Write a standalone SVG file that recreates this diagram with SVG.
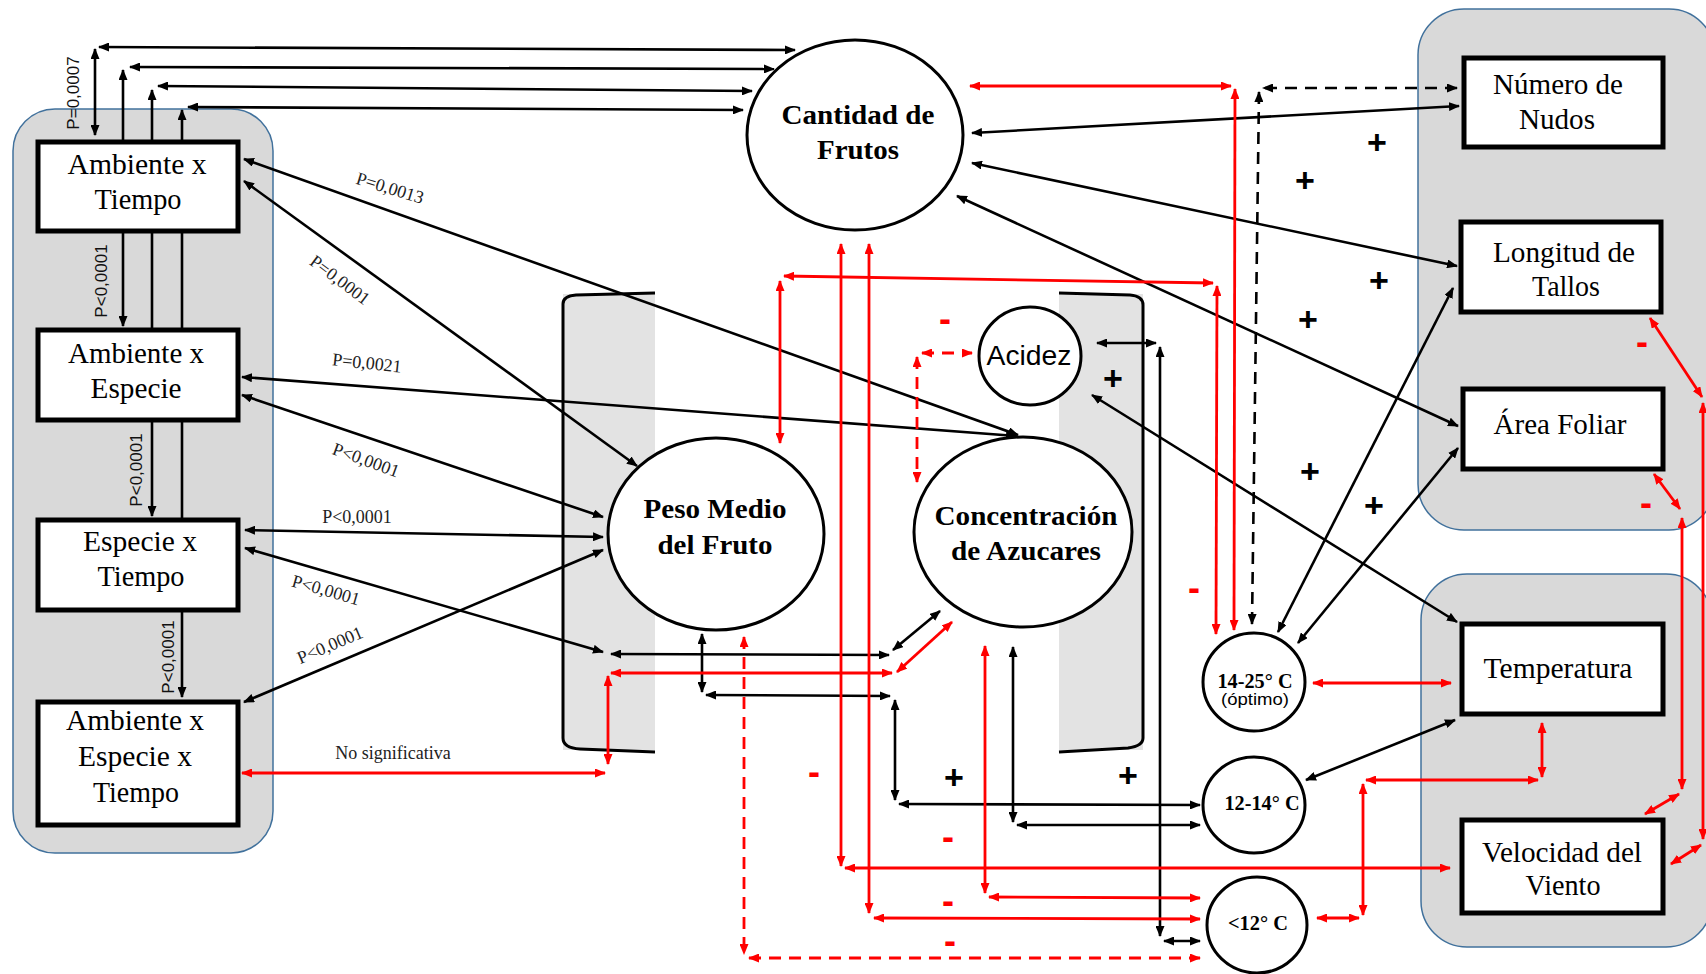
<svg xmlns="http://www.w3.org/2000/svg" width="1706" height="974" viewBox="0 0 1706 974">
<style>
.grp{fill:#d9d9d9;stroke:#41719c;stroke-width:1.5}
.box{fill:#fff;stroke:#000;stroke-width:5}
.ell{fill:#fff;stroke:#000;stroke-width:3}
.cyl{fill:#e3e3e3}
.cyll{fill:none;stroke:#000;stroke-width:3}
.bl{stroke:#000;stroke-width:2.6;fill:none;marker-start:url(#ab);marker-end:url(#ab)}
.rd{stroke:#f00;stroke-width:2.8;fill:none;marker-start:url(#ar);marker-end:url(#ar)}
.dash{stroke-dasharray:12 8}
.t{font-family:"Liberation Serif","Times New Roman",serif;font-size:29px;fill:#000;text-anchor:middle}
.tb{font-family:"Liberation Serif","Times New Roman",serif;font-size:28px;font-weight:bold;fill:#000;text-anchor:middle}
.ts{font-family:"Liberation Serif","Times New Roman",serif;font-size:20px;font-weight:bold;fill:#000;text-anchor:middle}
.p{font-family:"Liberation Serif","Times New Roman",serif;font-size:18px;fill:#222;text-anchor:middle}
.pv{font-family:"Liberation Sans",Arial,sans-serif;font-size:17px;fill:#111;text-anchor:middle}
.plus{font-family:"Liberation Sans",Arial,sans-serif;font-size:34px;font-weight:bold;fill:#000;text-anchor:middle}
.minus{font-family:"Liberation Sans",Arial,sans-serif;font-size:36px;font-weight:bold;fill:#f00;text-anchor:middle}
.sans{font-family:"Liberation Sans",Arial,sans-serif;fill:#000;text-anchor:middle}
</style>
<defs>
<marker id="ab" viewBox="0 0 11 9" refX="10" refY="4.5" markerWidth="11" markerHeight="9" markerUnits="userSpaceOnUse" orient="auto-start-reverse"><path d="M0,0 L11,4.5 L0,9 z" fill="#000"/></marker>
<marker id="ar" viewBox="0 0 11 9" refX="10" refY="4.5" markerWidth="11" markerHeight="9" markerUnits="userSpaceOnUse" orient="auto-start-reverse"><path d="M0,0 L11,4.5 L0,9 z" fill="#f00"/></marker>
</defs>
<rect width="1706" height="974" fill="#fff"/>

<g id="panels">
<rect class="grp" x="13" y="109" width="260" height="744" rx="42"/>
<rect class="grp" x="1418" y="9" width="297" height="521" rx="46"/>
<rect class="grp" x="1421" y="574" width="291" height="373" rx="46"/>
<rect class="cyl" x="563" y="294" width="92" height="456"/>
<path class="cyll" d="M655,293 L576,295 Q563,296 563,304 L563,738 Q563,748 580,749 L655,752"/>
<rect class="cyl" x="1059" y="294" width="84" height="456"/>
<path class="cyll" d="M1059,293 L1130,295 Q1143,296 1143,305 L1143,738 Q1143,746 1128,748 L1059,752"/>
</g>

<g id="connectors">
<path class="bl" d="M95,135 L95,49"/>
<path class="bl" d="M99,47 L795,50"/>
<path class="bl" d="M123,326 L123,70"/>
<path class="bl" d="M130,67 L774,69"/>
<path class="bl" d="M152,516 L152,90"/>
<path class="bl" d="M158,86 L752,91"/>
<path class="bl" d="M182,697 L182,110"/>
<path class="bl" d="M188,107 L743,110"/>
<path class="bl" d="M244,159 L1018,435"/>
<path class="bl" d="M244,181 L637,466"/>
<path class="bl" d="M242,377 L1016,436"/>
<path class="bl" d="M242,395 L603,517"/>
<path class="bl" d="M245,530 L603,537"/>
<path class="bl" d="M245,548 L603,652"/>
<path class="bl" d="M244,702 L603,550"/>
<path class="bl" d="M611,654 L889,655"/>
<path class="bl" d="M893,650 L940,611"/>
<path class="bl" d="M702,634 L702,692"/>
<path class="bl" d="M706,695 L890,696"/>
<path class="bl" d="M895,700 L895,800"/>
<path class="bl" d="M899,804 L1200,805"/>
<path class="bl" d="M1013,647 L1013,822"/>
<path class="bl" d="M1017,825 L1200,825"/>
<path class="bl" d="M1097,343 L1156,343"/>
<path class="bl" d="M1160,347 L1160,936"/>
<path class="bl" d="M1164,941 L1200,941"/>
<path class="bl" d="M1092,395 L1457,622"/>
<path class="bl" d="M972,133 L1459,106"/>
<path class="bl" d="M972,163 L1457,266"/>
<path class="bl" d="M957,196 L1458,426"/>
<path class="bl" d="M1278,632 L1453,288"/>
<path class="bl" d="M1298,643 L1458,448"/>
<path class="bl" d="M1306,780 L1455,720"/>
<path class="bl dash" d="M1457,88 L1263,88"/>
<path class="bl dash" d="M1259,92 L1252,624"/>

<path class="rd" d="M611,673 L892,673"/>
<path class="rd" d="M897,672 L952,622"/>
<path class="rd" d="M608,676 L608,764"/>
<path class="rd" d="M242,773 L605,773"/>
<path class="rd" d="M970,86 L1231,86"/>
<path class="rd" d="M1235,89 L1234,630"/>
<path class="rd" d="M780,443 L780,281"/>
<path class="rd" d="M784,276 L1213,283"/>
<path class="rd" d="M1217,286 L1216,634"/>
<path class="rd" d="M841,244 L841,866"/>
<path class="rd" d="M845,868 L1450,868"/>
<path class="rd" d="M869,244 L869,913"/>
<path class="rd" d="M874,918 L1200,919"/>
<path class="rd" d="M985,646 L985,893"/>
<path class="rd" d="M989,897 L1200,898"/>
<path class="rd dash" d="M744,637 L744,954"/>
<path class="rd dash" d="M749,958 L1200,958"/>
<path class="rd dash" d="M917,357 L917,482"/>
<path class="rd dash" d="M922,353 L972,353"/>
<path class="rd" d="M1313,683 L1451,683"/>
<path class="rd" d="M1542,723 L1542,777"/>
<path class="rd" d="M1366,780 L1538,780"/>
<path class="rd" d="M1363,784 L1363,915"/>
<path class="rd" d="M1317,918 L1359,918"/>
<path class="rd" d="M1650,318 L1702,397"/>
<path class="rd" d="M1703,403 L1703,839"/>
<path class="rd" d="M1701,845 L1671,864"/>
<path class="rd" d="M1654,474 L1680,509"/>
<path class="rd" d="M1682,518 L1682,789"/>
<path class="rd" d="M1679,794 L1645,814"/>
</g>

<g id="n-amb-tiempo"><rect class="box" x="38" y="142" width="200" height="89"/>
<text class="t" x="137" y="174" textLength="139" lengthAdjust="spacingAndGlyphs">Ambiente x</text>
<text class="t" x="138" y="209" textLength="87" lengthAdjust="spacingAndGlyphs">Tiempo</text></g>
<g id="n-amb-especie"><rect class="box" x="38" y="330" width="200" height="90"/>
<text class="t" x="136" y="363" textLength="136" lengthAdjust="spacingAndGlyphs">Ambiente x</text>
<text class="t" x="136" y="398" textLength="91" lengthAdjust="spacingAndGlyphs">Especie</text></g>
<g id="n-especie-tiempo"><rect class="box" x="38" y="520" width="200" height="90"/>
<text class="t" x="140" y="551" textLength="114" lengthAdjust="spacingAndGlyphs">Especie x</text>
<text class="t" x="141" y="586" textLength="87" lengthAdjust="spacingAndGlyphs">Tiempo</text></g>
<g id="n-amb-esp-tiempo"><rect class="box" x="38" y="702" width="200" height="123"/>
<text class="t" x="135" y="730" textLength="138" lengthAdjust="spacingAndGlyphs">Ambiente x</text>
<text class="t" x="135" y="766" textLength="114" lengthAdjust="spacingAndGlyphs">Especie x</text>
<text class="t" x="136" y="802" textLength="86" lengthAdjust="spacingAndGlyphs">Tiempo</text></g>

<g id="n-cantidad"><ellipse class="ell" cx="855" cy="135" rx="108" ry="95"/>
<text class="tb" x="858" y="124" textLength="153" lengthAdjust="spacingAndGlyphs">Cantidad de</text>
<text class="tb" x="858" y="159" textLength="82" lengthAdjust="spacingAndGlyphs">Frutos</text></g>
<g id="n-peso"><ellipse class="ell" cx="716" cy="534" rx="108" ry="96"/>
<text class="tb" x="715" y="518" textLength="143" lengthAdjust="spacingAndGlyphs">Peso Medio</text>
<text class="tb" x="715" y="554" textLength="115" lengthAdjust="spacingAndGlyphs">del Fruto</text></g>
<g id="n-azucares"><ellipse class="ell" cx="1023" cy="532" rx="109" ry="95"/>
<text class="tb" x="1026" y="525" textLength="183" lengthAdjust="spacingAndGlyphs">Concentración</text>
<text class="tb" x="1026" y="560" textLength="150" lengthAdjust="spacingAndGlyphs">de Azucares</text></g>
<g id="n-acidez"><ellipse class="ell" cx="1030" cy="356" rx="51" ry="49"/>
<text class="sans" x="1029" y="365" font-size="27" textLength="85" lengthAdjust="spacingAndGlyphs">Acidez</text></g>

<g id="n-t14-25"><ellipse class="ell" cx="1254" cy="682" rx="51" ry="49"/>
<text class="ts" x="1255" y="688" textLength="75" lengthAdjust="spacingAndGlyphs">14-25° C</text>
<text class="sans" x="1255" y="705" font-size="17" textLength="68" lengthAdjust="spacingAndGlyphs">(óptimo)</text></g>
<g id="n-t12-14"><ellipse class="ell" cx="1254" cy="805" rx="51" ry="48"/>
<text class="ts" x="1262" y="810" textLength="75" lengthAdjust="spacingAndGlyphs">12-14° C</text></g>
<g id="n-t12"><ellipse class="ell" cx="1257" cy="925" rx="50" ry="48"/>
<text class="ts" x="1258" y="930" textLength="60" lengthAdjust="spacingAndGlyphs">&lt;12° C</text></g>

<g id="n-nudos"><rect class="box" x="1464" y="58" width="199" height="89"/>
<text class="t" x="1558" y="94" textLength="130" lengthAdjust="spacingAndGlyphs">Número de</text>
<text class="t" x="1557" y="129" textLength="76" lengthAdjust="spacingAndGlyphs">Nudos</text></g>
<g id="n-tallos"><rect class="box" x="1461" y="222" width="200" height="90"/>
<text class="t" x="1564" y="262" textLength="142" lengthAdjust="spacingAndGlyphs">Longitud de</text>
<text class="t" x="1566" y="296" textLength="68" lengthAdjust="spacingAndGlyphs">Tallos</text></g>
<g id="n-foliar"><rect class="box" x="1463" y="389" width="200" height="80"/>
<text class="t" x="1560" y="434" textLength="133" lengthAdjust="spacingAndGlyphs">Área Foliar</text></g>
<g id="n-temperatura"><rect class="box" x="1462" y="624" width="201" height="90"/>
<text class="t" x="1558" y="678" textLength="149" lengthAdjust="spacingAndGlyphs">Temperatura</text></g>
<g id="n-viento"><rect class="box" x="1462" y="820" width="201" height="93"/>
<text class="t" x="1562" y="862" textLength="160" lengthAdjust="spacingAndGlyphs">Velocidad del</text>
<text class="t" x="1563" y="895" textLength="75" lengthAdjust="spacingAndGlyphs">Viento</text></g>

<g id="labels">
<text class="pv" transform="translate(73,93) rotate(-90)" y="6">P=0,0007</text>
<text class="pv" transform="translate(101,281) rotate(-90)" y="6">P&lt;0,0001</text>
<text class="pv" transform="translate(136,470) rotate(-90)" y="6">P&lt;0,0001</text>
<text class="pv" transform="translate(168,657) rotate(-90)" y="6">P&lt;0,0001</text>
<text class="p" transform="translate(390,188) rotate(17)" y="6">P=0,0013</text>
<text class="p" transform="translate(340,280) rotate(37)" y="6">P=0,0001</text>
<text class="p" transform="translate(367,363) rotate(6)" y="6">P=0,0021</text>
<text class="p" transform="translate(366,460) rotate(20)" y="6">P&lt;0,0001</text>
<text class="p" x="357" y="523">P&lt;0,0001</text>
<text class="p" transform="translate(326,590) rotate(16)" y="6">P&lt;0,0001</text>
<text class="p" transform="translate(330,645) rotate(-23)" y="6">P&lt;0,0001</text>
<text class="p" x="393" y="759">No significativa</text>
<text class="plus" x="1377" y="154">+</text>
<text class="plus" x="1305" y="192">+</text>
<text class="plus" x="1379" y="292">+</text>
<text class="plus" x="1308" y="331">+</text>
<text class="plus" x="1310" y="483">+</text>
<text class="plus" x="1374" y="517">+</text>
<text class="plus" x="1113" y="390">+</text>
<text class="plus" x="954" y="789">+</text>
<text class="plus" x="1128" y="787">+</text>
<text class="minus" x="945" y="331">-</text>
<text class="minus" x="1194" y="600">-</text>
<text class="minus" x="814" y="784">-</text>
<text class="minus" x="948" y="849">-</text>
<text class="minus" x="948" y="913">-</text>
<text class="minus" x="950" y="953">-</text>
<text class="minus" x="1642" y="354">-</text>
<text class="minus" x="1646" y="515">-</text>
</g>
</svg>
